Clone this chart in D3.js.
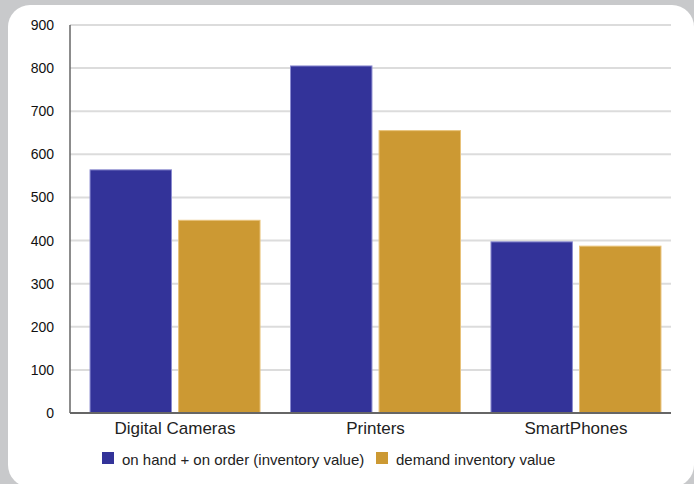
<!DOCTYPE html>
<html>
<head>
<meta charset="utf-8">
<script src="https://cdn.jsdelivr.net/npm/d3@7"></script>
<style>
  html, body { margin: 0; padding: 0; background: #c8c9cb; }
  svg { display: block; }
  text { font-family: "Liberation Sans", Arial, Helvetica, sans-serif; }
</style>
</head>
<body>
<svg id="chart" width="694" height="484"></svg>
<script>
// Inventory value vs. demand, by product category
const categories = ["Digital Cameras", "Printers", "SmartPhones"];
const seriesNames = ["on hand + on order (inventory value)", "demand inventory value"];
const onHandValues = [564, 805, 397];
const demandValues = [447, 655, 387];
const yTicks = [0, 100, 200, 300, 400, 500, 600, 700, 800, 900];
const seriesColors = ["#333399", "#cc9933"];
const seriesStrokes = ["#8c8cd0", "#e8c27a"];

const svg = d3.select("#chart");

// White rounded card
svg.append("rect")
  .attr("x", 8).attr("y", 5)
  .attr("width", 686).attr("height", 482)
  .attr("rx", 22).attr("ry", 22)
  .attr("fill", "#ffffff");

const plot = { left: 70, right: 671, top: 25, bottom: 413 };

const y = d3.scaleLinear().domain([0, 900]).range([plot.bottom, plot.top]);

const x0 = d3.scaleBand()
  .domain(categories)
  .range([75, 676])
  .paddingInner(0.152)
  .paddingOuter(0.075);

const x1 = d3.scaleBand()
  .domain(seriesNames)
  .range([0, x0.bandwidth()])
  .paddingInner(0.08);

// Horizontal grid lines
svg.append("g")
  .selectAll("line")
  .data(yTicks.filter(d => d > 0))
  .join("line")
  .attr("x1", plot.left).attr("x2", plot.right)
  .attr("y1", d => y(d)).attr("y2", d => y(d))
  .attr("stroke", "#dcdcdc")
  .attr("stroke-width", 2);

// Y axis labels
const yAxis = d3.axisLeft(y).tickValues(yTicks).tickSize(0).tickPadding(0);
const yg = svg.append("g")
  .attr("transform", `translate(${plot.left - 16},0)`)
  .call(yAxis);
yg.select(".domain").remove();
yg.selectAll("text")
  .attr("font-size", 14)
  .attr("font-family", "Liberation Sans, Arial, sans-serif")
  .attr("fill", "#111");

// Bars
const rows = categories.map((c, i) => ({ cat: c, vals: [onHandValues[i], demandValues[i]] }));
const groups = svg.append("g")
  .selectAll("g")
  .data(rows)
  .join("g")
  .attr("transform", d => `translate(${x0(d.cat)},0)`);

groups.selectAll("rect")
  .data(d => d.vals.map((v, k) => ({ name: seriesNames[k], k, v })))
  .join("rect")
  .attr("x", d => x1(d.name))
  .attr("width", x1.bandwidth())
  .attr("y", d => y(d.v))
  .attr("height", d => y(0) - y(d.v))
  .attr("fill", d => seriesColors[d.k])
  .attr("stroke", d => seriesStrokes[d.k])
  .attr("stroke-width", 1);

// Axis lines
svg.append("line")
  .attr("x1", plot.left).attr("x2", plot.left)
  .attr("y1", plot.top).attr("y2", plot.bottom)
  .attr("stroke", "#666").attr("stroke-width", 1.5);
svg.append("line")
  .attr("x1", plot.left).attr("x2", plot.right)
  .attr("y1", plot.bottom).attr("y2", plot.bottom)
  .attr("stroke", "#666").attr("stroke-width", 2);

// Category labels
const xAxis = d3.axisBottom(x0).tickSize(0).tickPadding(0);
const xg = svg.append("g")
  .attr("transform", `translate(0,${plot.bottom + 8})`)
  .call(xAxis);
xg.select(".domain").remove();
xg.selectAll("text")
  .attr("dy", "0.78em")
  .attr("font-size", 17)
  .attr("font-family", "Liberation Sans, Arial, sans-serif")
  .attr("fill", "#222");

// Legend
const legendItems = [
  { name: seriesNames[0], color: seriesColors[0], x: 102 },
  { name: seriesNames[1], color: seriesColors[1], x: 376 }
];
const lg = svg.append("g").selectAll("g").data(legendItems).join("g")
  .attr("transform", d => `translate(${d.x},452)`);
lg.append("rect")
  .attr("width", 12).attr("height", 12)
  .attr("fill", d => d.color);
lg.append("text")
  .attr("x", 20).attr("y", 13)
  .attr("font-size", 15)
  .attr("fill", "#222")
  .text(d => d.name);
</script>
</body>
</html>
